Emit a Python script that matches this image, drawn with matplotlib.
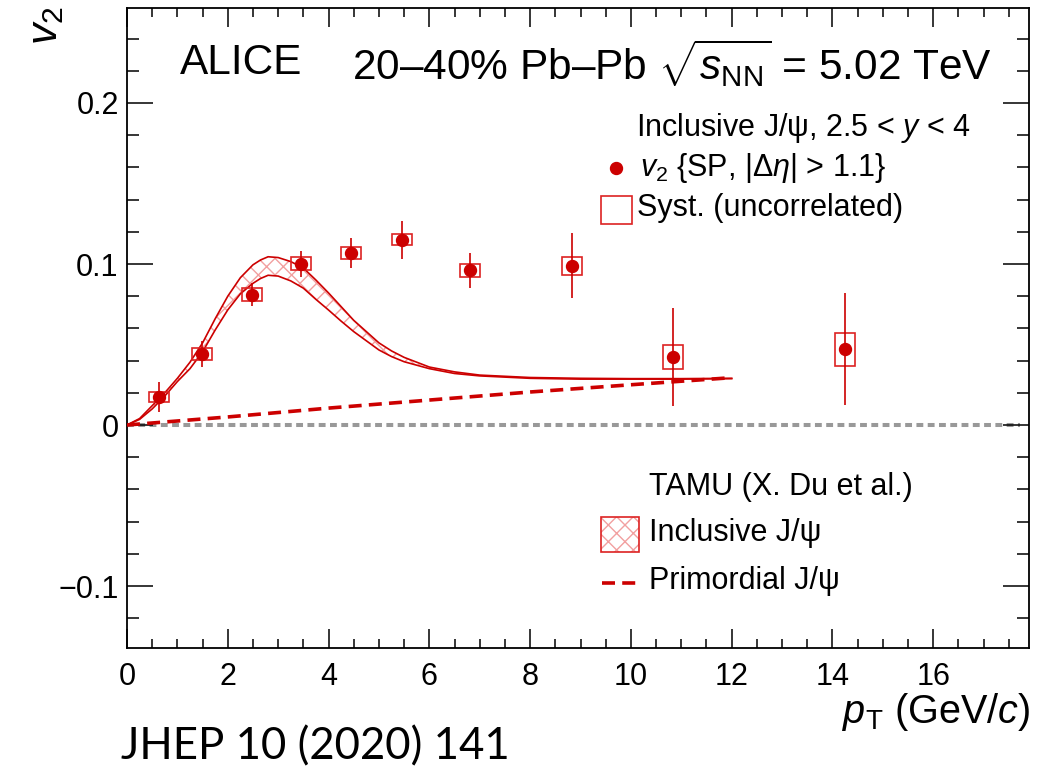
import matplotlib
matplotlib.use("Agg")
import matplotlib.pyplot as plt
from matplotlib.patches import Rectangle
import numpy as np

plt.rcParams['font.family'] = ['Liberation Sans', 'DejaVu Sans']
plt.rcParams['mathtext.fontset'] = 'custom'
plt.rcParams['mathtext.rm'] = 'Liberation Sans'
plt.rcParams['mathtext.it'] = 'Liberation Sans:italic'
plt.rcParams['mathtext.bf'] = 'Liberation Sans:bold'
plt.rcParams['hatch.linewidth'] = 1.0

# ---- data ----
pt = [0.64, 1.49, 2.48, 3.45, 4.45, 5.45, 6.8, 8.83, 10.84, 14.25]
v2 = [0.0172, 0.0441, 0.081, 0.1002, 0.107, 0.115, 0.096, 0.099, 0.0422, 0.047]
stat = [0.0093, 0.0078, 0.0073, 0.008, 0.0093, 0.012, 0.011, 0.020, 0.0305, 0.0347]
syst = [0.003, 0.004, 0.004, 0.004, 0.0036, 0.0035, 0.0043, 0.0056, 0.0075, 0.0103]

tamu_pt = [0, 0.25, 0.5, 0.75, 1.0, 1.25, 1.5, 1.75, 2.0, 2.25, 2.5, 2.65, 2.8, 3.0,
           3.25, 3.5, 3.75, 4.0, 4.25, 4.5, 5.0, 5.25, 5.5, 6.0, 6.5, 7.0, 8.0,
           9.0, 10.0, 11.0, 12.0]
tamu_up = [0, 0.004, 0.012, 0.020, 0.029, 0.039, 0.051, 0.066, 0.080, 0.0915, 0.0995,
           0.1025, 0.1045, 0.104, 0.1015, 0.0975, 0.090, 0.082, 0.0735, 0.065,
           0.051, 0.046, 0.042, 0.036, 0.033, 0.031, 0.0295, 0.029, 0.0288,
           0.0288, 0.029]
tamu_lo = [0, 0.0035, 0.010, 0.018, 0.027, 0.035, 0.0455, 0.059, 0.0715, 0.0815, 0.088,
           0.091, 0.093, 0.0925, 0.0895, 0.085, 0.078, 0.0714, 0.0645, 0.058,
           0.0466, 0.0425, 0.0393, 0.035, 0.032, 0.0305, 0.029, 0.0285, 0.0285,
           0.0285, 0.0288]

prim_pt = [0, 1, 2, 4, 6, 8, 10, 12]
prim_v2 = [0, 0.0025, 0.005, 0.0105, 0.0155, 0.0205, 0.025, 0.0294]

RED = '#cc0000'
BOXRED = '#dd2222'
HATCH = '#f2a0a0'

fig = plt.figure(figsize=(10.51, 7.69), dpi=100)
W, H = 1051, 769
L, R, T, B = 127, 1029, 8, 648
ax = fig.add_axes([L / W, (H - B) / H, (R - L) / W, (B - T) / H])
ax.set_xlim(0, 17.9)
ax.set_ylim(-0.1385, 0.259)

# zero line
ax.axhline(0, xmin=0, xmax=0.99, color='#999999', lw=2.9, dashes=(1.7, 1.1), zorder=1)

# TAMU band
ax.fill_between(tamu_pt, tamu_lo, tamu_up, facecolor='none', edgecolor=HATCH,
                hatch='xx', linewidth=0, zorder=2)
ax.plot(tamu_pt, tamu_up, color=RED, lw=1.2, zorder=3)
ax.plot(tamu_pt, tamu_lo, color=RED, lw=1.2, zorder=3)

# primordial
ax.plot(prim_pt, prim_v2, color=RED, lw=2.6, dashes=(3.6, 2.0), zorder=3)

# syst boxes
bw = 0.4
for x, y, s in zip(pt, v2, syst):
    ax.add_patch(Rectangle((x - bw / 2, y - s), bw, 2 * s, facecolor='none',
                           edgecolor=BOXRED, lw=1.2, zorder=4))
# points
ax.errorbar(pt, v2, yerr=stat, fmt='o', color=RED, ms=8.6, elinewidth=1.2,
            capsize=0, zorder=5)

# ticks
ax.set_xticks(np.arange(0, 17, 2))
ax.set_xticks(np.arange(0, 17.9, 0.5), minor=True)
ax.set_yticks([-0.1, 0, 0.1, 0.2])
ax.set_yticklabels(['\u22120.1', '0', '0.1', '0.2'])
ax.set_yticks(np.arange(-0.12, 0.259, 0.02), minor=True)
ax.tick_params(axis='both', which='both', direction='in', top=True, right=True,
               width=1.1, color='black')
ax.tick_params(axis='y', which='major', length=18.5, labelsize=22, pad=6)
ax.tick_params(axis='y', which='minor', length=8.6)
ax.tick_params(axis='x', which='major', length=13.7, labelsize=22, pad=10)
ax.tick_params(axis='x', which='minor', length=6.5)
for sp in ax.spines.values():
    sp.set_linewidth(1.3)

# axis labels
fig.text(46 / W, 1 - 6 / H, r'$v_{2}$', rotation=90, ha='center', va='top', fontsize=31)
fig.text(1030 / W, (H - 723) / H, r'$p_{\rm T}$ (GeV/$c$)', ha='right', va='baseline',
         fontsize=28.5)

# title
ax.text(0.059, 0.914, 'ALICE', transform=ax.transAxes, fontsize=30.5, va='center')
ax.text(0.249, 0.914, r'20–40% Pb–Pb $\sqrt{s_{\rm NN}}$ = 5.02 TeV',
        transform=ax.transAxes, fontsize=30.5, va='center')


def ax_x(px):
    return (px - L) / (R - L)


def ax_y(py):
    return (B - py) / (B - T)


# upper legend
ax.text(ax_x(636), ax_y(128), r'Inclusive J/ψ, 2.5 < $y$ < 4', transform=ax.transAxes,
        fontsize=22, va='center')
ax.plot([ax_x(616)], [ax_y(168)], 'o', color=RED, ms=8.6, transform=ax.transAxes)
ax.text(ax_x(640), ax_y(168), r'$v_{2}$ {SP, |$\Delta\eta$| > 1.1}', transform=ax.transAxes,
        fontsize=22, va='center')
ax.add_patch(Rectangle((ax_x(601), ax_y(224)), ax_x(632) - ax_x(601), ax_y(196) - ax_y(224),
                       transform=ax.transAxes, facecolor='none', edgecolor=BOXRED, lw=1.2))
ax.text(ax_x(637), ax_y(208), 'Syst. (uncorrelated)', transform=ax.transAxes,
        fontsize=22, va='center')

# lower legend
ax.text(ax_x(649), ax_y(487), 'TAMU (X. Du et al.)', transform=ax.transAxes,
        fontsize=22, va='center')
ax.add_patch(Rectangle((ax_x(601), ax_y(552)), ax_x(639) - ax_x(601), ax_y(517) - ax_y(552),
                       transform=ax.transAxes, facecolor='none', edgecolor=HATCH,
                       hatch='xx', lw=0))
ax.add_patch(Rectangle((ax_x(601), ax_y(552)), ax_x(639) - ax_x(601), ax_y(517) - ax_y(552),
                       transform=ax.transAxes, facecolor='none', edgecolor=BOXRED, lw=1.2))
ax.text(ax_x(649), ax_y(533), 'Inclusive J/ψ', transform=ax.transAxes,
        fontsize=22, va='center')
ax.plot([ax_x(602), ax_x(639)], [ax_y(583), ax_y(583)], color=RED, lw=2.6,
        dashes=(3.6, 2.0), transform=ax.transAxes)
ax.text(ax_x(649), ax_y(581), 'Primordial J/ψ', transform=ax.transAxes,
        fontsize=22, va='center')

# reference
fig.text(121 / W, (H - 759) / H, 'JHEP 10 (2020) 141', fontsize=31.5,
         family=['Lato', 'DejaVu Sans'], ha='left', va='baseline')

fig.savefig('out.png', dpi=100)
